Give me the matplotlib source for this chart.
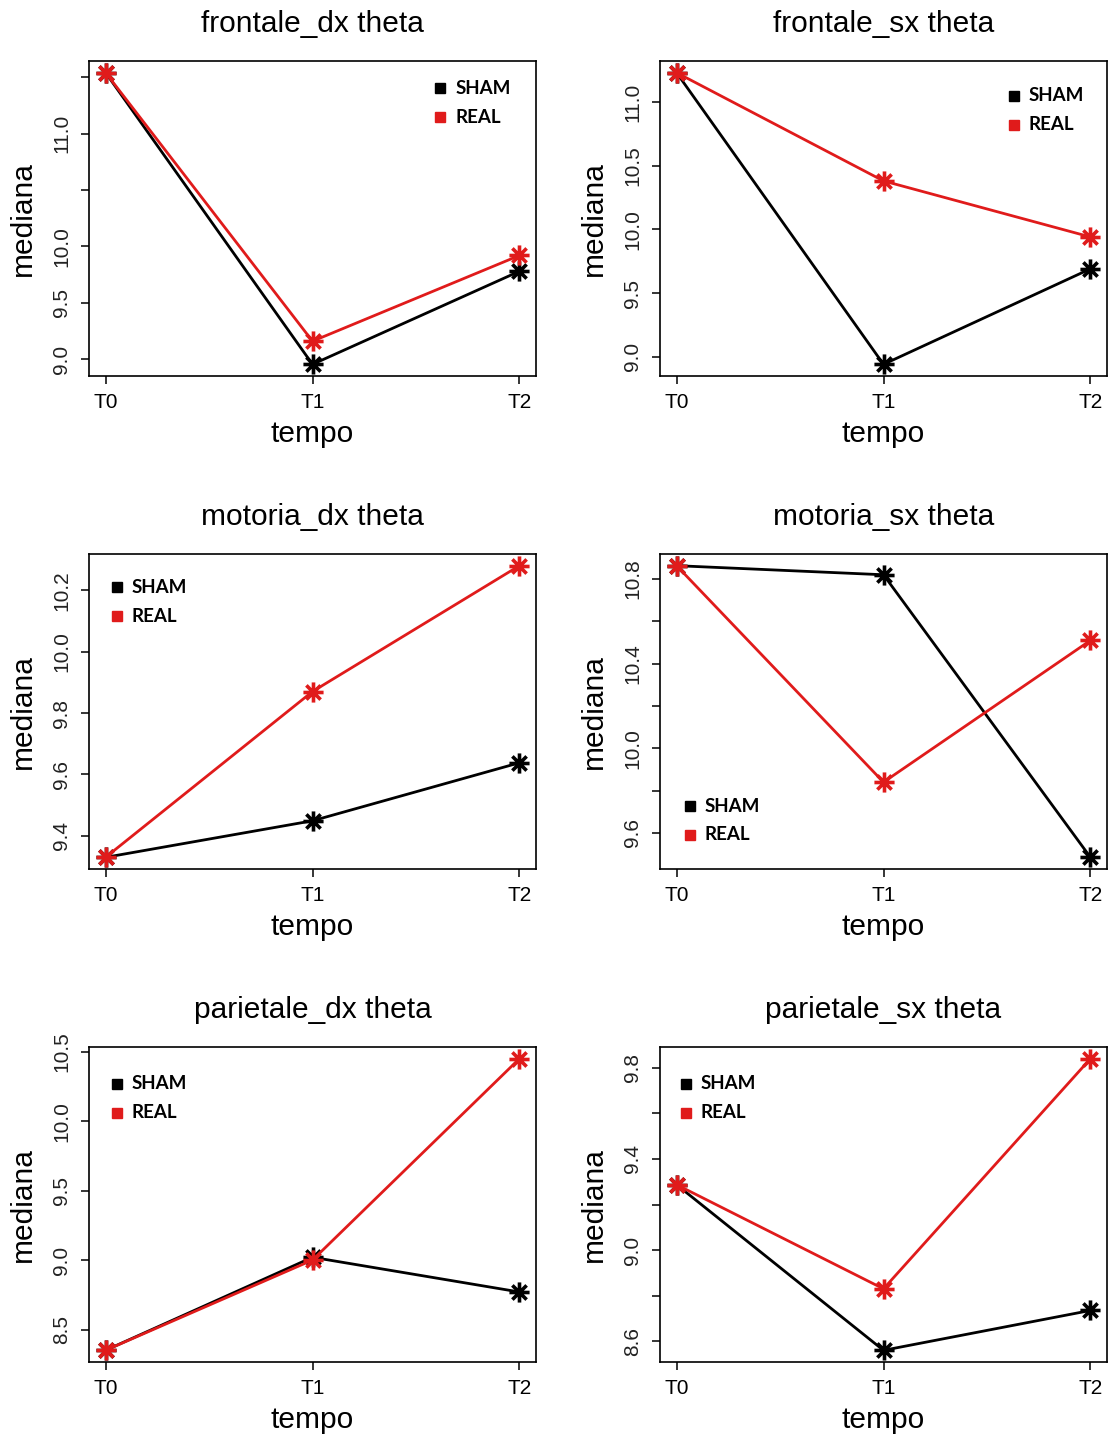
import matplotlib
matplotlib.use('Agg')
import matplotlib.pyplot as plt
from matplotlib.path import Path

# --- dati ---
tempi = ['T0', 'T1', 'T2']
titoli = ['frontale_dx theta', 'frontale_sx theta',
          'motoria_dx theta', 'motoria_sx theta',
          'parietale_dx theta', 'parietale_sx theta']

sham_frontale_dx = [11.54, 8.955, 9.78]
real_frontale_dx = [11.54, 9.16, 9.92]
sham_frontale_sx = [11.23, 8.94, 9.69]
real_frontale_sx = [11.23, 10.38, 9.94]
sham_motoria_dx = [9.33, 9.449, 9.638]
real_motoria_dx = [9.33, 9.87, 10.28]
sham_motoria_sx = [10.863, 10.82, 9.485]
real_motoria_sx = [10.863, 9.84, 10.51]
sham_parietale_dx = [8.35, 9.02, 8.77]
real_parietale_dx = [8.35, 9.0, 10.45]
sham_parietale_sx = [9.287, 8.56, 8.735]
real_parietale_sx = [9.287, 8.83, 9.84]

sham = [sham_frontale_dx, sham_frontale_sx, sham_motoria_dx,
        sham_motoria_sx, sham_parietale_dx, sham_parietale_sx]
real = [real_frontale_dx, real_frontale_sx, real_motoria_dx,
        real_motoria_sx, real_parietale_dx, real_parietale_sx]

yticks = [
    [9.0, 9.5, 10.0, 10.5, 11.0, 11.5],
    [9.0, 9.5, 10.0, 10.5, 11.0],
    [9.4, 9.6, 9.8, 10.0, 10.2],
    [9.6, 9.8, 10.0, 10.2, 10.4, 10.6, 10.8],
    [8.5, 9.0, 9.5, 10.0, 10.5],
    [8.6, 8.8, 9.0, 9.2, 9.4, 9.6, 9.8],
]
ytick_labels = [
    ['9.0', '9.5', '10.0', '', '11.0', ''],
    ['9.0', '9.5', '10.0', '10.5', '11.0'],
    ['9.4', '9.6', '9.8', '10.0', '10.2'],
    ['9.6', '', '10.0', '', '10.4', '', '10.8'],
    ['8.5', '9.0', '9.5', '10.0', '10.5'],
    ['8.6', '', '9.0', '', '9.4', '', '9.8'],
]

# posizione legenda (frazione assi, quadratino prima riga)
legend_pos = [(0.786, 0.914), (0.792, 0.889), (0.0625, 0.895),
              (0.067, 0.200), (0.0625, 0.883), (0.058, 0.883)]

ROSSO = '#e01b1b'
FONT = 'Liberation Sans'

# asterisco stile R (pch = 8)
d = 0.7071
asterisco = Path([(-1, 0), (1, 0), (0, -1), (0, 1),
                  (-d, -d), (d, d), (-d, d), (d, -d)],
                 [Path.MOVETO, Path.LINETO] * 4)

fig = plt.figure(figsize=(11.08, 14.36), dpi=100)
W, H = 1108.0, 1436.0
col_x = [89, 660]
row_top = [61, 554, 1047]
ax_w, ax_h = 447, 315

x = list(range(1, len(tempi) + 1))

for i in range(6):
    r, c = divmod(i, 2)
    left = col_x[c] / W
    bottom = 1 - (row_top[r] + ax_h) / H
    ax = fig.add_axes([left, bottom, ax_w / W, ax_h / H])

    for serie, col in [(sham[i], 'black'), (real[i], ROSSO)]:
        ax.plot(x, serie, color=col, lw=2.0, marker=asterisco, ms=14.5,
                mec=col, mfc='none', mew=2.6, solid_joinstyle='round')

    tutti = sham[i] + real[i]
    lo, hi = min(tutti), max(tutti)
    rng = hi - lo
    ax.set_ylim(lo - 0.04 * rng, hi + 0.04 * rng)
    ax.set_xlim(0.92, 3.08)

    ax.set_xticks(x)
    ax.set_xticklabels(tempi, fontsize=15, family=FONT)
    ax.set_yticks(yticks[i])
    ax.set_yticklabels(ytick_labels[i], fontsize=15, family=FONT,
                       rotation=90, va='center', color='#222222')
    ax.tick_params(length=6, width=1.1)
    ax.tick_params(axis='x', pad=6)
    ax.tick_params(axis='y', pad=7)
    for s in ax.spines.values():
        s.set_linewidth(1.2)

    ax.set_title(titoli[i], fontsize=21.5, family=FONT, pad=21)
    ax.set_xlabel('tempo', fontsize=21.5, family=FONT, labelpad=6)
    ax.set_ylabel('mediana', fontsize=21.5, family=FONT, labelpad=11)

    # legenda
    lx, ly = legend_pos[i]
    for k, (nome, col) in enumerate([('SHAM', 'black'), ('REAL', ROSSO)]):
        yy = ly - 0.092 * k
        ax.plot([lx], [yy], marker='s', ms=6.5, color=col,
                transform=ax.transAxes, clip_on=False)
        ax.text(lx + 0.033, yy, nome, transform=ax.transAxes,
                fontsize=13.5, fontweight='bold', family='Lato',
                va='center', ha='left')

fig.savefig('out.png', dpi=100)
